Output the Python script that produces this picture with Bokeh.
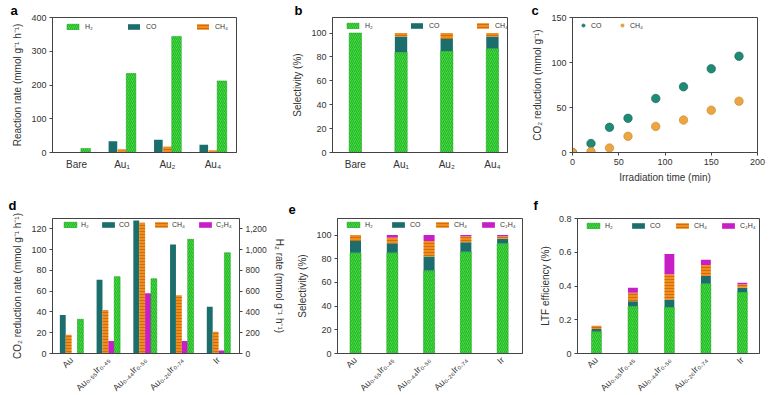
import math
import numpy as np
from bokeh.plotting import figure
from bokeh.models import (Range1d, LinearAxis, FixedTicker, Legend, LegendItem,
                          Title, NumeralTickFormatter)
from bokeh.layouts import row, column
from bokeh.embed import file_html
from bokeh.resources import INLINE

# ---------------- data ----------------
a_cats = ["Bare", "Au₁", "Au₂", "Au₄"]
a_h2 = [12, 234, 344, 212]
a_co = [0, 33, 38, 23]
a_ch4 = [0, 9, 17, 7]

b_h2 = [100, 84, 85, 87]
b_co = [0, 13, 10, 10]
b_ch4 = [0, 3, 5, 3]

c_time = [0, 20, 40, 60, 90, 120, 150, 180]
c_co = [0, 10, 28, 38, 60, 73, 93, 107]
c_ch4 = [0, 1, 5, 18, 29, 36, 47, 57]

d_cats = ["Au", "Au₀.₅₅Ir₀.₄₅", "Au₀.₄₄Ir₀.₅₆", "Au₀.₂₆Ir₀.₇₄", "Ir"]
d_co = [37, 71, 128, 105, 45]
d_ch4 = [18, 42, 126, 56, 21]
d_c2h4 = [0, 12, 58, 12, 3]
d_h2 = [330, 740, 720, 1100, 970]

e_h2 = [85, 85, 70, 86, 93]
e_co = [10, 8, 12, 8, 4]
e_ch4 = [5, 5, 13, 5, 2]
e_c2h4 = [0, 2, 5, 1, 1]

f_h2 = [0.13, 0.28, 0.275, 0.415, 0.365]
f_co = [0.015, 0.03, 0.045, 0.045, 0.025]
f_ch4 = [0.02, 0.05, 0.15, 0.065, 0.02]
f_c2h4 = [0.0, 0.03, 0.12, 0.03, 0.01]

# ---------------- style ----------------
FONT = "Liberation Sans"
TXT = "#333333"
AX = "#444444"
GREEN = "#3fdb3f"
GREEN_H = "#1f9f1f"
TEAL = "#1b6e6c"
ORANGE = "#f28c1e"
ORANGE_H = "#b35a00"
MAGENTA = "#c81ec8"
C_CO = "#1f8a78"
C_CH4 = "#eba644"

FH = 135  # frame height of every panel


def style_axis(ax, size="9px"):
    ax.axis_line_color = AX
    ax.major_tick_line_color = AX
    ax.major_tick_out = 3
    ax.major_tick_in = 0
    ax.minor_tick_line_color = None
    ax.major_label_text_font = FONT
    ax.major_label_text_font_size = size
    ax.major_label_text_color = TXT
    ax.major_label_standoff = 3
    ax.axis_label_text_font = FONT
    ax.axis_label_text_font_size = "10px"
    ax.axis_label_text_font_style = "normal"
    ax.axis_label_text_color = TXT
    ax.axis_label_standoff = 5


def fig(fw, xr, yr, bl, br, bt, bb):
    p = figure(frame_width=fw, frame_height=FH, x_range=Range1d(*xr), y_range=Range1d(*yr),
               title=None, output_backend="svg", toolbar_location=None,
               min_border_left=bl, min_border_right=br,
               min_border_top=bt, min_border_bottom=bb)
    p.xgrid.visible = False
    p.ygrid.visible = False
    p.outline_line_color = AX
    p.outline_line_width = 1
    p.background_fill_color = "white"
    p.border_fill_color = "white"
    for ax in p.axis:
        style_axis(ax)
    return p


def cat_axis(p, labels, rotate=False):
    ax = p.xaxis[0]
    ax.ticker = FixedTicker(ticks=list(range(len(labels))))
    ax.major_label_overrides = {i: l for i, l in enumerate(labels)}
    ax.major_tick_line_color = None
    if rotate:
        ax.major_label_orientation = math.pi / 4
        ax.major_label_text_font_size = "9px"
        ax.major_label_standoff = 2
    else:
        ax.major_label_text_font_size = "10px"


def bars(p, x, top, width, kind, bottom=0, **kw):
    args = dict(x=x, top=top, bottom=bottom, width=width, line_color=None)
    if kind == "h2":
        args.update(fill_color=GREEN, hatch_pattern="right_diagonal_line",
                    hatch_color=GREEN_H, hatch_scale=4, hatch_weight=0.7,
                    line_color=GREEN_H, line_width=0.5)
    elif kind == "co":
        args.update(fill_color=TEAL)
    elif kind == "ch4":
        args.update(fill_color=ORANGE, hatch_pattern="horizontal_line",
                    hatch_color=ORANGE_H, hatch_scale=3, hatch_weight=0.6)
    elif kind == "c2h4":
        args.update(fill_color=MAGENTA)
    args.update(kw)
    return p.vbar(**args)


def add_legend(p, items, xs, center, glyph_w=15, glyph_h=7, standoff=5, item_h=8):
    # one small legend per entry so that each entry sits where the reference has it
    for (lab, r), x0 in zip(items, xs):
        lg = Legend(items=[LegendItem(label=lab, renderers=[r])],
                    orientation="horizontal",
                    location=(x0, FH - center - item_h / 2))
        lg.margin = 0
        lg.padding = 0
        lg.spacing = 0
        lg.glyph_width = glyph_w
        lg.glyph_height = glyph_h
        lg.label_width = 10
        lg.label_height = glyph_h
        lg.label_standoff = standoff
        lg.label_text_font = FONT
        lg.label_text_font_size = "7px"
        lg.label_text_color = TXT
        lg.border_line_alpha = 0
        lg.background_fill_alpha = 0
        p.add_layout(lg, "center")


def letter(p, txt, offset, standoff):
    p.add_layout(Title(text=txt, align="left", offset=offset, standoff=standoff,
                       text_font=FONT, text_font_style="bold", text_font_size="13px",
                       text_color="black", vertical_align="bottom"), "above")


# ---------------- panel a ----------------
pa = fig(184, (-0.53, 3.52), (0, 400), 52, 46, 17, 38)
xa = np.arange(len(a_cats))
r_co = bars(pa, xa - 0.2, a_co, 0.19, "co")
r_ch4 = bars(pa, xa, a_ch4, 0.19, "ch4")
r_h2 = bars(pa, xa + 0.2, a_h2, 0.21, "h2")
cat_axis(pa, a_cats)
pa.yaxis[0].ticker = FixedTicker(ticks=[0, 100, 200, 300, 400])
pa.yaxis[0].axis_label = "Reaction rate (mmol g⁻¹ h⁻¹)"
add_legend(pa, [("H₂", r_h2), ("CO", r_co), ("CH₄", r_ch4)], [13, 74, 143], 9)
letter(pa, "a", -42, 0)

# ---------------- panel b ----------------
pb = fig(175, (-0.5, 3.33), (0, 113), 50, 20, 17, 38)
xb = np.arange(len(a_cats))
b_h2a, b_coa, b_ch4a = np.array(b_h2), np.array(b_co), np.array(b_ch4)
rb_h2 = bars(pb, xb, b_h2a, 0.27, "h2")
rb_co = bars(pb, xb, b_h2a + b_coa, 0.27, "co", bottom=b_h2a)
rb_ch4 = bars(pb, xb, b_h2a + b_coa + b_ch4a, 0.27, "ch4", bottom=b_h2a + b_coa)
cat_axis(pb, a_cats)
pb.yaxis[0].ticker = FixedTicker(ticks=[0, 20, 40, 60, 80, 100])
pb.yaxis[0].axis_label = "Selectivity (%)"
add_legend(pb, [("H₂", rb_h2), ("CO", rb_co), ("CH₄", rb_ch4)], [13, 77, 143], 8)
letter(pb, "b", -38, 0)

# ---------------- panel c ----------------
pc = fig(185, (0, 200), (0, 150), 45, 22, 17, 38)
rc_co = pc.scatter(c_time, c_co, size=8.5, fill_color=C_CO, line_color="#115e52",
                   line_width=0.6)
rc_ch4 = pc.scatter(c_time, c_ch4, size=8.5, fill_color=C_CH4, line_color="#c98420",
                    line_width=0.6)
pc.xaxis[0].ticker = FixedTicker(ticks=[0, 50, 100, 150, 200])
pc.yaxis[0].ticker = FixedTicker(ticks=[0, 50, 100, 150])
pc.xaxis[0].axis_label = "Irradiation time (min)"
pc.xaxis[0].axis_label_standoff = 4
pc.yaxis[0].axis_label = "CO₂ reduction (mmol g⁻¹)"
add_legend(pc, [("CO", rc_co), ("CH₄", rc_ch4)], [5, 44], 8, glyph_w=12, glyph_h=8,
           standoff=2)
letter(pc, "c", -41, 0)

# ---------------- panel d ----------------
pd_ = fig(187, (-0.52, 4.57), (0, 130), 52, 43, 28, 42)
pd_.extra_y_ranges = {"h2": Range1d(0, 1300)}
xd = np.arange(len(d_cats))
rd_co = bars(pd_, xd - 0.24, d_co, 0.16, "co")
rd_ch4 = bars(pd_, xd - 0.08, d_ch4, 0.16, "ch4")
rd_c2h4 = bars(pd_, xd + 0.08, d_c2h4, 0.16, "c2h4")
rd_h2 = bars(pd_, xd + 0.24, d_h2, 0.16, "h2", y_range_name="h2")
cat_axis(pd_, d_cats, rotate=True)
pd_.yaxis[0].ticker = FixedTicker(ticks=[0, 20, 40, 60, 80, 100, 120])
pd_.yaxis[0].axis_label = "CO₂ reduction rate (mmol g⁻¹ h⁻¹)"
rax = LinearAxis(y_range_name="h2", axis_label="H₂ rate (mmol g⁻¹ h⁻¹)",
                 ticker=FixedTicker(ticks=[0, 200, 400, 600, 800, 1000, 1200]),
                 formatter=NumeralTickFormatter(format="0,0"))
style_axis(rax, size="8.5px")
rax.axis_label_standoff = 4
pd_.add_layout(rax, "right")
add_legend(pd_, [("H₂", rd_h2), ("CO", rd_co), ("CH₄", rd_ch4), ("C₂H₄", rd_c2h4)],
           [10, 48, 101, 145], 6, glyph_w=16, standoff=3)
letter(pd_, "d", -44, 11)

# ---------------- panel e ----------------
pe = fig(185, (-0.49, 4.54), (0, 114), 50, 10, 28, 42)
xe = np.arange(len(d_cats))
e1 = np.array(e_h2)
e2 = e1 + np.array(e_co)
e3 = e2 + np.array(e_ch4)
e4 = e3 + np.array(e_c2h4)
re_h2 = bars(pe, xe, e1, 0.3, "h2")
re_co = bars(pe, xe, e2, 0.3, "co", bottom=e1)
re_ch4 = bars(pe, xe, e3, 0.3, "ch4", bottom=e2)
re_c2h4 = bars(pe, xe, e4, 0.3, "c2h4", bottom=e3)
cat_axis(pe, d_cats, rotate=True)
pe.yaxis[0].ticker = FixedTicker(ticks=[0, 20, 40, 60, 80, 100])
pe.yaxis[0].axis_label = "Selectivity (%)"
add_legend(pe, [("H₂", re_h2), ("CO", re_co), ("CH₄", re_ch4), ("C₂H₄", re_c2h4)],
           [8, 53, 97, 143], 6, glyph_w=16, standoff=4)
letter(pe, "e", -49, 9)

# ---------------- panel f ----------------
pf = fig(182, (-0.52, 4.47), (0, 0.8), 45, 25, 28, 42)
xf = np.arange(len(d_cats))
f1 = np.array(f_h2)
f2 = f1 + np.array(f_co)
f3 = f2 + np.array(f_ch4)
f4 = f3 + np.array(f_c2h4)
rf_h2 = bars(pf, xf, f1, 0.27, "h2")
rf_co = bars(pf, xf, f2, 0.27, "co", bottom=f1)
rf_ch4 = bars(pf, xf, f3, 0.27, "ch4", bottom=f2)
rf_c2h4 = bars(pf, xf, f4, 0.27, "c2h4", bottom=f3)
cat_axis(pf, d_cats, rotate=True)
pf.yaxis[0].ticker = FixedTicker(ticks=[0, 0.2, 0.4, 0.6, 0.8])
pf.yaxis[0].major_label_overrides = {0: "0"}
pf.yaxis[0].axis_label = "LTF efficiency (%)"
add_legend(pf, [("H₂", rf_h2), ("CO", rf_co), ("CH₄", rf_ch4), ("C₂H₄", rf_c2h4)],
           [8, 53, 97, 143], 6.5, glyph_w=16, standoff=4)
letter(pf, "f", -44, 11)

layout = column(row(pa, pb, pc), row(pd_, pe, pf))

open("out.html", "w").write(file_html(layout, INLINE))
